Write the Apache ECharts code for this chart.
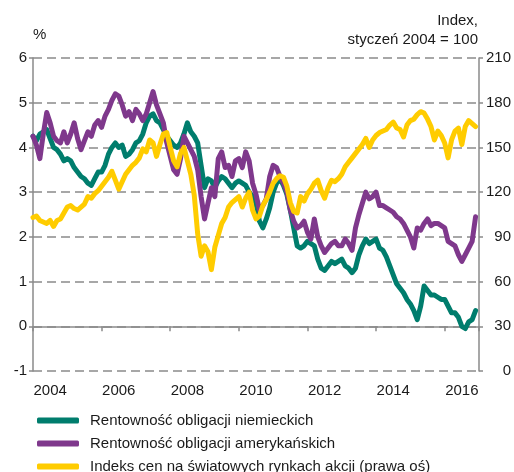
<!DOCTYPE html>
<html>
<head>
<meta charset="utf-8">
<script src="https://cdn.jsdelivr.net/npm/echarts@6/dist/echarts.min.js"></script>
<style>
  html, body { margin: 0; padding: 0; background: #fff; }
  #chart { width: 514px; height: 472px; }
</style>
</head>
<body>
<div id="chart"></div>
<script>
// próbki co 0.1 roku od stycznia 2004
const startYear = 2004;
const step = 0.1;

const yearLabels = ["2004", "2005", "2006", "2007", "2008", "2009", "2010",
  "2011", "2012", "2013", "2014", "2015", "2016"];

const names = [
  "Rentowność obligacji niemieckich",
  "Rentowność obligacji amerykańskich",
  "Indeks cen na światowych rynkach akcji (prawa oś)",
];

// rentowność 10-letnich obligacji niemieckich, %
const bundYield = [
  4.25, 4.15, 4.3, 4.35, 4.4, 4.2, 4.0, 3.95, 3.85, 3.7, 3.75, 3.7, 3.55, 3.45, 3.35, 3.3, 3.2,
  3.15, 3.3, 3.45, 3.45, 3.6, 3.85, 4.0, 4.1, 4.0, 4.05, 3.8, 3.85, 3.95, 4.1, 4.15, 4.3,
  4.55, 4.7, 4.75, 4.6, 4.55, 4.4, 4.25, 4.15, 4.05, 4.0, 4.1, 4.3, 4.55, 4.35, 4.25, 4.1, 3.6,
  3.1, 3.3, 3.25, 3.1, 3.25, 3.35, 3.3, 3.2, 3.1, 3.2, 3.25, 3.2, 3.15, 3.0, 2.9, 2.75,
  2.35, 2.2, 2.4, 2.65, 3.0, 3.2, 3.3, 3.15, 2.95, 2.6, 2.2, 1.8, 1.75, 1.8, 1.9, 1.85,
  1.8, 1.5, 1.3, 1.25, 1.35, 1.45, 1.4, 1.45, 1.5, 1.35, 1.3, 1.2, 1.3, 1.6, 1.8, 1.95,
  1.85, 1.9, 1.95, 1.75, 1.7, 1.55, 1.35, 1.15, 0.95, 0.85, 0.75, 0.6, 0.5, 0.35, 0.15, 0.45,
  0.9, 0.8, 0.7, 0.7, 0.65, 0.6, 0.6, 0.45, 0.3, 0.3, 0.2, 0.0, -0.05, 0.1, 0.15, 0.35,
];

// rentowność 10-letnich obligacji USA, %
const usYield = [
  4.25, 4.05, 3.75, 4.3, 4.78, 4.55, 4.25, 4.15, 4.1, 4.35, 4.1, 4.3, 4.55, 4.2, 3.95, 4.15, 4.35,
  4.25, 4.5, 4.6, 4.45, 4.7, 4.85, 5.05, 5.2, 5.15, 4.95, 4.7, 4.8, 4.6, 4.85, 4.75, 4.6,
  4.75, 5.0, 5.25, 4.95, 4.75, 4.55, 4.1, 3.8, 3.5, 3.4, 3.75, 4.25, 4.1, 3.95, 3.8, 3.5, 2.9,
  2.4, 2.75, 3.1, 2.9, 3.75, 3.9, 3.55, 3.6, 3.35, 3.7, 3.75, 3.55, 3.9, 3.7, 3.2, 2.95,
  2.6, 2.7, 2.85, 3.35, 3.6, 3.55, 3.35, 3.2, 3.0, 2.6, 2.35, 2.2, 2.25, 2.35, 2.1, 1.95,
  2.4, 2.0, 1.8, 1.65, 1.75, 1.85, 1.9, 1.8, 1.8, 1.95, 1.85, 1.7, 2.2, 2.5, 2.75, 3.0,
  2.85, 2.9, 3.0, 2.7, 2.7, 2.65, 2.6, 2.55, 2.45, 2.4, 2.3, 2.15, 2.0, 1.75, 2.2, 2.15,
  2.3, 2.4, 2.25, 2.3, 2.3, 2.25, 2.2, 1.9, 1.85, 1.8, 1.6, 1.45, 1.6, 1.75, 1.9, 2.45,
];

// indeks MSCI, styczeń 2004 = 100
const stockIndex = [
  103, 104, 101, 100, 99, 101, 97, 101, 102, 106, 110, 111, 109, 108, 110, 112, 117,
  116, 119, 121, 124, 127, 130, 134, 128, 122, 127, 132, 135, 138, 140, 143, 149,
  147, 155, 153, 144, 152, 159, 160, 150, 141, 137, 146, 150, 141, 132, 118, 92, 77,
  84, 80, 68, 83, 91, 99, 103, 110, 113, 115, 117, 110, 116, 120, 108, 102,
  104, 111, 115, 120, 126, 129, 131, 130, 124, 113, 107, 106, 117, 114, 119, 122,
  126, 128, 121, 116, 123, 128, 127, 129, 132, 137, 140, 143, 146, 149, 152, 156,
  150, 155, 158, 160, 161, 162, 165, 167, 163, 162, 157, 165, 168, 169, 172, 174,
  173, 169, 164, 155, 161, 158, 153, 143, 155, 161, 163, 152, 164, 168, 166, 164,
];

const colors = ["#007d6d", "#7f388c", "#ffcc00"];

function toPairs(values) {
  return values.map((v, i) => [+(startYear + i * step).toFixed(2), v]);
}

const chart = echarts.init(document.getElementById("chart"));

const axisGray = "#8a8a8a";
const font = "Liberation Sans, Arial, sans-serif";
const labelStyle = { color: "#1a1a1a", fontSize: 15, fontFamily: font };

// jedna legenda na wiersz, żeby się nie zawijała
const legends = names.map((name, i) => ({
  orient: "vertical",
  left: 37,
  top: 413 + i * 23,
  padding: 0,
  itemWidth: 42,
  itemHeight: 6,
  icon: "roundRect",
  textStyle: { color: "#1a1a1a", fontSize: 15, fontFamily: font, padding: [0, 0, 0, 6] },
  data: [name],
}));

const option = {
  animation: false,
  color: colors,
  grid: { left: 33, right: 35, top: 58, bottom: 101 },
  graphic: [
    { type: "text", left: 33, top: 27, style: { text: "%", fontSize: 15, fontFamily: font, fill: "#1a1a1a" } },
    { type: "text", right: 36, top: 13, style: { text: "Index,", fontSize: 15, fontFamily: font, fill: "#1a1a1a", align: "right" } },
    { type: "text", right: 36, top: 32, style: { text: "styczeń 2004 = 100", fontSize: 15, fontFamily: font, fill: "#1a1a1a", align: "right" } },
  ],
  legend: legends,
  xAxis: [
    {
      type: "value",
      min: 2004,
      max: 2017,
      interval: 2,
      position: "bottom",
      axisLine: { onZero: true, lineStyle: { color: axisGray, width: 1.5 } },
      axisTick: { show: true, length: 5, lineStyle: { color: axisGray, width: 1.5 } },
      axisLabel: { show: false },
      splitLine: { show: false },
    },
    {
      type: "category",
      data: yearLabels,
      boundaryGap: true,
      position: "bottom",
      axisLine: { show: false, onZero: false },
      axisTick: { show: false },
      axisLabel: { interval: 1, margin: 12, ...labelStyle },
      splitLine: { show: false },
    },
  ],
  yAxis: [
    {
      type: "value",
      min: -1,
      max: 6,
      interval: 1,
      axisLine: { show: true, lineStyle: { color: axisGray, width: 1.5 } },
      axisTick: { show: true, length: 4, lineStyle: { color: axisGray, width: 1.5 } },
      axisLabel: { margin: 6, ...labelStyle },
      splitLine: {
        show: true,
        lineStyle: { color: axisGray, width: 1.5, type: [9, 5] },
      },
    },
    {
      type: "value",
      min: 0,
      max: 210,
      interval: 30,
      position: "right",
      axisLine: { show: true, lineStyle: { color: axisGray, width: 1.5 } },
      axisTick: { show: true, length: 4, lineStyle: { color: axisGray, width: 1.5 } },
      axisLabel: { margin: 32, align: "right", ...labelStyle },
      splitLine: { show: false },
    },
  ],
  series: [
    {
      name: names[0],
      type: "line",
      xAxisIndex: 0,
      yAxisIndex: 0,
      showSymbol: false,
      data: toPairs(bundYield),
      lineStyle: { width: 5, color: colors[0], join: "round", cap: "round" },
    },
    {
      name: names[1],
      type: "line",
      xAxisIndex: 0,
      yAxisIndex: 0,
      showSymbol: false,
      data: toPairs(usYield),
      lineStyle: { width: 5, color: colors[1], join: "round", cap: "round" },
    },
    {
      name: names[2],
      type: "line",
      xAxisIndex: 0,
      yAxisIndex: 1,
      showSymbol: false,
      data: toPairs(stockIndex),
      lineStyle: { width: 5, color: colors[2], join: "round", cap: "round" },
    },
  ],
};

chart.setOption(option);
</script>
</body>
</html>
